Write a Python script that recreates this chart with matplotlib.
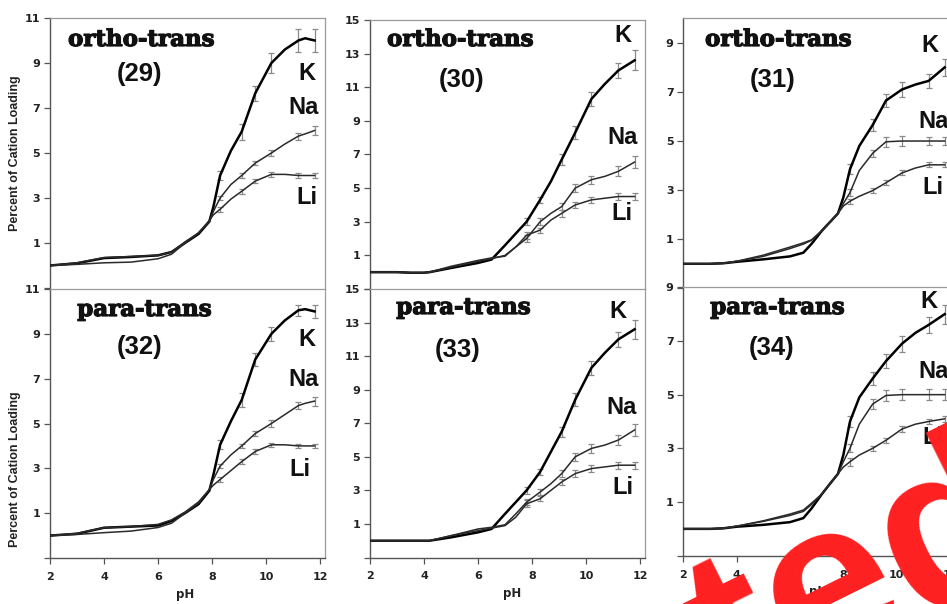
import numpy as np
import matplotlib

matplotlib.use("Agg")
import matplotlib.pyplot as plt
import matplotlib.patheffects as pe

# pH grids (one per column of panels)
PH_29 = [2, 3, 4, 5, 6, 6.5, 7, 7.5, 7.9, 8.05, 8.3, 8.7, 9.1, 9.6, 10.2, 10.7, 11.2, 11.45, 11.8]
PH_30 = [2, 3, 3.5, 4, 4.2, 5, 6, 6.5, 7, 7.4, 7.8, 8.3, 8.7, 9.1, 9.6, 10.2, 10.7, 11.2, 11.8]
PH_31 = [2, 3, 3.5, 4, 5, 6, 6.5, 6.8, 7.2, 7.5, 7.8, 8.0, 8.25, 8.6, 9.1, 9.6, 10.2, 10.7, 11.2, 11.8]

# (29) ortho-trans
K_29 = [0, 0.1, 0.33, 0.38, 0.45, 0.6, 1.0, 1.4, 1.95, 2.6, 4.0, 5.1, 5.95, 7.65, 9.0, 9.6, 10.0, 10.1, 10.0]
NA_29 = [0, 0.12, 0.35, 0.4, 0.45, 0.6, 1.05, 1.45, 1.95, 2.4, 3.0, 3.6, 4.0, 4.55, 5.0, 5.4, 5.75, 5.85, 6.0]
LI_29 = [0, 0.05, 0.12, 0.15, 0.3, 0.5, 1.0, 1.45, 2.0, 2.25, 2.5, 2.95, 3.3, 3.75, 4.05, 4.05, 4.0, 4.0, 4.0]
K_29_ERR = [0, 0, 0, 0, 0, 0, 0, 0, 0, 0, 0.2, 0, 0.35, 0.35, 0.45, 0, 0.5, 0, 0.5]
NA_29_ERR = [0, 0, 0, 0, 0, 0, 0, 0, 0, 0, 0.1, 0, 0.1, 0.1, 0.15, 0, 0.15, 0, 0.2]
LI_29_ERR = [0, 0, 0, 0, 0, 0, 0, 0, 0, 0, 0.1, 0, 0.1, 0.1, 0.1, 0, 0.1, 0, 0.1]

# (32) para-trans
K_32 = [0, 0.08, 0.35, 0.4, 0.45, 0.65, 1.0, 1.4, 2.0, 2.7, 4.05, 5.1, 6.05, 7.85, 9.0, 9.6, 10.05, 10.1, 10.0]
NA_32 = [0, 0.1, 0.35, 0.4, 0.5, 0.7, 1.05, 1.5, 2.05, 2.5, 3.1, 3.6, 4.0, 4.55, 5.0, 5.4, 5.8, 5.9, 6.0]
LI_32 = [0, 0.05, 0.13, 0.2, 0.36, 0.55, 1.0, 1.45, 2.05, 2.25, 2.5, 2.9, 3.3, 3.75, 4.05, 4.05, 4.0, 4.0, 4.0]
K_32_ERR = [0, 0, 0, 0, 0, 0, 0, 0, 0, 0, 0.2, 0, 0.3, 0.3, 0.3, 0, 0.25, 0, 0.3]
NA_32_ERR = [0, 0, 0, 0, 0, 0, 0, 0, 0, 0, 0.1, 0, 0.1, 0.1, 0.15, 0, 0.15, 0, 0.2]
LI_32_ERR = [0, 0, 0, 0, 0, 0, 0, 0, 0, 0, 0.1, 0, 0.1, 0.1, 0.1, 0, 0.1, 0, 0.1]

# (30) ortho-trans
K_30 = [0, 0, -0.03, -0.03, 0, 0.25, 0.55, 0.75, 1.6, 2.3, 3.0, 4.3, 5.4, 6.7, 8.3, 10.3, 11.2, 12.0, 12.6]
NA_30 = [0, 0, -0.03, -0.03, 0, 0.3, 0.65, 0.8, 1.0, 1.5, 2.0, 3.0, 3.5, 3.9, 5.0, 5.5, 5.7, 6.0, 6.55]
LI_30 = [0, 0, -0.03, -0.03, 0, 0.35, 0.7, 0.85, 0.95, 1.5, 2.2, 2.5, 3.1, 3.5, 4.0, 4.3, 4.4, 4.5, 4.5]
K_30_ERR = [0, 0, 0, 0, 0, 0, 0, 0, 0, 0, 0.2, 0.2, 0, 0.3, 0.4, 0.4, 0, 0.45, 0.6]
NA_30_ERR = [0, 0, 0, 0, 0, 0, 0, 0, 0, 0, 0.2, 0.2, 0, 0.2, 0.25, 0.25, 0, 0.3, 0.35]
LI_30_ERR = [0, 0, 0, 0, 0, 0, 0, 0, 0, 0, 0.2, 0.15, 0, 0.2, 0.2, 0.2, 0, 0.2, 0.2]

# (33) para-trans
K_33 = [0, 0, 0, 0, 0, 0.2, 0.5, 0.7, 1.6, 2.3, 3.0, 4.1, 5.3, 6.5, 8.4, 10.3, 11.2, 12.0, 12.6]
NA_33 = [0, 0, 0, 0, 0, 0.3, 0.7, 0.8, 0.95, 1.6, 2.3, 2.9, 3.4, 4.0, 5.0, 5.5, 5.7, 6.0, 6.6]
LI_33 = [0, 0, 0, 0, 0, 0.3, 0.6, 0.75, 0.9, 1.4, 2.2, 2.5, 3.0, 3.5, 4.0, 4.3, 4.4, 4.5, 4.5]
K_33_ERR = [0, 0, 0, 0, 0, 0, 0, 0, 0, 0, 0.2, 0.2, 0, 0.3, 0.4, 0.4, 0, 0.45, 0.55]
NA_33_ERR = [0, 0, 0, 0, 0, 0, 0, 0, 0, 0, 0.2, 0.2, 0, 0.2, 0.25, 0.25, 0, 0.3, 0.35]
LI_33_ERR = [0, 0, 0, 0, 0, 0, 0, 0, 0, 0, 0.2, 0.15, 0, 0.2, 0.2, 0.2, 0, 0.2, 0.2]

# (31) ortho-trans
K_31 = [0, 0, 0.02, 0.08, 0.18, 0.3, 0.45, 0.8, 1.35, 1.7, 2.05, 2.7, 3.85, 4.8, 5.65, 6.65, 7.1, 7.3, 7.45, 8.0]
NA_31 = [0, 0, 0.02, 0.1, 0.3, 0.62, 0.8, 0.95, 1.35, 1.7, 2.05, 2.45, 2.9, 3.8, 4.5, 4.97, 5.0, 5.0, 5.0, 5.0]
LI_31 = [0, 0, 0.02, 0.1, 0.35, 0.68, 0.85, 0.97, 1.35, 1.7, 2.05, 2.35, 2.55, 2.75, 2.98, 3.3, 3.7, 3.9, 4.03, 4.03]
K_31_ERR = [0, 0, 0, 0, 0, 0, 0, 0, 0, 0, 0, 0, 0.2, 0, 0.25, 0.25, 0.3, 0, 0.3, 0.35]
NA_31_ERR = [0, 0, 0, 0, 0, 0, 0, 0, 0, 0, 0, 0, 0.15, 0, 0.15, 0.2, 0.2, 0, 0.15, 0.15]
LI_31_ERR = [0, 0, 0, 0, 0, 0, 0, 0, 0, 0, 0, 0, 0.1, 0, 0.1, 0.1, 0.1, 0, 0.1, 0.1]

# (34) para-trans
K_34 = [0, 0, 0.02, 0.08, 0.15, 0.25, 0.4, 0.75, 1.3, 1.68, 2.05, 2.75, 4.0, 4.9, 5.6, 6.25, 6.9, 7.3, 7.6, 8.0]
NA_34 = [0, 0, 0.02, 0.1, 0.28, 0.5, 0.65, 0.9, 1.3, 1.68, 2.05, 2.5, 3.0, 3.9, 4.65, 4.97, 5.0, 5.0, 5.0, 5.0]
LI_34 = [0, 0, 0.02, 0.1, 0.3, 0.55, 0.7, 0.95, 1.3, 1.68, 2.05, 2.3, 2.5, 2.75, 3.0, 3.3, 3.72, 3.9, 4.0, 4.1]
K_34_ERR = [0, 0, 0, 0, 0, 0, 0, 0, 0, 0, 0, 0, 0.2, 0, 0.25, 0.25, 0.3, 0, 0.3, 0.35]
NA_34_ERR = [0, 0, 0, 0, 0, 0, 0, 0, 0, 0, 0, 0, 0.15, 0, 0.2, 0.2, 0.2, 0, 0.2, 0.2]
LI_34_ERR = [0, 0, 0, 0, 0, 0, 0, 0, 0, 0, 0, 0, 0.15, 0, 0.1, 0.1, 0.1, 0, 0.1, 0.1]

PH_TICKS = [2, 4, 6, 8, 10, 12]
TITLES = ["ortho-trans", "ortho-trans", "ortho-trans", "para-trans", "para-trans", "para-trans"]
NUMBERS = ["(29)", "(30)", "(31)", "(32)", "(33)", "(34)"]

W, H = 947, 604
fig = plt.figure(figsize=(W / 100, H / 100), dpi=100)
fig.patch.set_facecolor("white")


def add_px_axes(left, top, right, bottom):
    return fig.add_axes([left / W, 1 - bottom / H, (right - left) / W, (bottom - top) / H])


# panel layout in pixels: box = left, top, right, bottom; px_per_ph = horizontal scale
panels = [
    dict(box=(50, 18, 325, 288), px_per_ph=27.0, ymax=11, top_row=True, ph=PH_29,
         series=((K_29, K_29_ERR), (NA_29, NA_29_ERR), (LI_29, LI_29_ERR)),
         title_xy=(141, 40), num_xy=(139, 74), xlab=0.5,
         ion_xy=((307, 73, "center"), (304, 108, "center"), (307, 198, "center"))),
    dict(box=(370, 20, 645, 289), px_per_ph=27.0, ymax=15, top_row=True, ph=PH_30,
         series=((K_30, K_30_ERR), (NA_30, NA_30_ERR), (LI_30, LI_30_ERR)),
         title_xy=(460, 40), num_xy=(462, 80), xlab=0.5,
         ion_xy=((623, 36, "center"), (623, 138, "center"), (622, 213, "center"))),
    dict(box=(683.3, 18.3, 955, 288.3), px_per_ph=26.67, ymax=10, top_row=True, ph=PH_31,
         series=((K_31, K_31_ERR), (NA_31, NA_31_ERR), (LI_31, LI_31_ERR)),
         title_xy=(778, 40), num_xy=(773, 80), xlab=0.5,
         ion_xy=((921, 45, "left"), (918, 122, "left"), (922, 187, "left"))),
    dict(box=(50, 289, 325, 558), px_per_ph=27.0, ymax=11, top_row=False, ph=PH_29,
         series=((K_32, K_32_ERR), (NA_32, NA_32_ERR), (LI_32, LI_32_ERR)),
         title_xy=(144, 310), num_xy=(140, 347), xlab=(185 - 50) / 275,
         ion_xy=((307, 340, "center"), (304, 380, "center"), (300, 470, "center"))),
    dict(box=(370, 289, 645, 557.5), px_per_ph=27.0, ymax=15, top_row=False, ph=PH_30,
         series=((K_33, K_33_ERR), (NA_33, NA_33_ERR), (LI_33, LI_33_ERR)),
         title_xy=(463, 308), num_xy=(458, 350), xlab=(512 - 370) / 275,
         ion_xy=((618, 312, "center"), (622, 407, "center"), (623, 487, "center"))),
    dict(box=(683.3, 287.3, 955, 555.7), px_per_ph=26.67, ymax=9, top_row=False, ph=PH_31,
         series=((K_34, K_34_ERR), (NA_34, NA_34_ERR), (LI_34, LI_34_ERR)),
         title_xy=(777, 308), num_xy=(772, 348), xlab=(818 - 683.3) / 271.7,
         ion_xy=((920, 302, "left"), (918, 372, "left"), (922, 438, "left"))),
]

ion_names = ["K", "Na", "Li"]
line_kw = [dict(color="black", lw=1.8), dict(color="#2a2a2a", lw=1.1), dict(color="#2a2a2a", lw=1.1)]
tick_font = dict(fontsize=8, fontweight="bold", color="#222222")
heavy = [pe.withStroke(linewidth=0.9, foreground="#111111")]

for i, p in enumerate(panels):
    left, top, right, bottom = p["box"]
    ax = add_px_axes(left, top, right, bottom)
    ph = np.array(p["ph"])
    for (vals, err), kw in zip(p["series"], line_kw):
        vals = np.array(vals)
        err = np.array(err)
        ax.plot(ph, vals, zorder=3, solid_joinstyle="round", **kw)
        m = err > 0
        ax.errorbar(ph[m], vals[m], yerr=err[m], fmt="none", ecolor="#8a8a8a",
                    elinewidth=0.9, capsize=2.5, capthick=0.9, zorder=2)

    ax.set_xlim(2, 2 + (right - left) / p["px_per_ph"])
    ax.set_ylim(-1, p["ymax"])

    yt = [-1] + list(range(1, p["ymax"] + 1, 2))
    ax.set_yticks(yt)
    ax.set_yticklabels([""] + [str(v) for v in yt[1:]], **tick_font)
    ax.tick_params(axis="y", direction="out", length=4, width=0.9, color="#555555", pad=3)

    for s in ("left", "bottom"):
        ax.spines[s].set_color("#555555")
        ax.spines[s].set_linewidth(1.0)
    for s in ("top", "right"):
        ax.spines[s].set_color("#9a9a9a")
        ax.spines[s].set_linewidth(0.9)

    if p["top_row"]:
        ax.set_xticks([])
        ax.spines["bottom"].set_visible(False)
    else:
        ax.set_xticks(PH_TICKS)
        ax.set_xticklabels([str(v) for v in PH_TICKS], **tick_font)
        ax.tick_params(axis="x", direction="out", length=4, width=0.9, color="#555555", pad=6)
        ax.set_xlabel("pH", fontsize=8.5, fontweight="bold", color="#222222")
        ax.xaxis.set_label_coords(p["xlab"], -0.11)

    tx, ty = p["title_xy"]
    fig.text(tx / W, 1 - ty / H, TITLES[i], ha="center", va="center",
             fontsize=16.5, fontweight="bold", family="DejaVu Serif", color="#111111",
             path_effects=heavy)
    nx, ny = p["num_xy"]
    fig.text(nx / W, 1 - ny / H, NUMBERS[i], ha="center", va="center",
             fontsize=18.5, fontweight="bold", family="Liberation Sans", color="#111111")
    for name, (ix, iy, ha) in zip(ion_names, p["ion_xy"]):
        fig.text(ix / W, 1 - iy / H, name, ha=ha, va="center",
                 fontsize=17, fontweight="bold", family="Liberation Sans", color="#111111")

# y-axis titles on the left column
for cy in (153, 469):
    fig.text(15 / W, 1 - cy / H, "Percent of Cation Loading", rotation=90, ha="center", va="center",
             fontsize=9, fontweight="bold", family="Liberation Sans", color="#222222")

# red watermark stamped diagonally across the lower right
fig.text(1043 / W, 1 - 558 / H, "Accepted", rotation=26.4, rotation_mode="anchor",
         ha="right", va="baseline", fontsize=166, fontweight="bold",
         family="Liberation Sans", color="#ff2020", zorder=10)

fig.savefig("out.png", dpi=100, facecolor="white")
